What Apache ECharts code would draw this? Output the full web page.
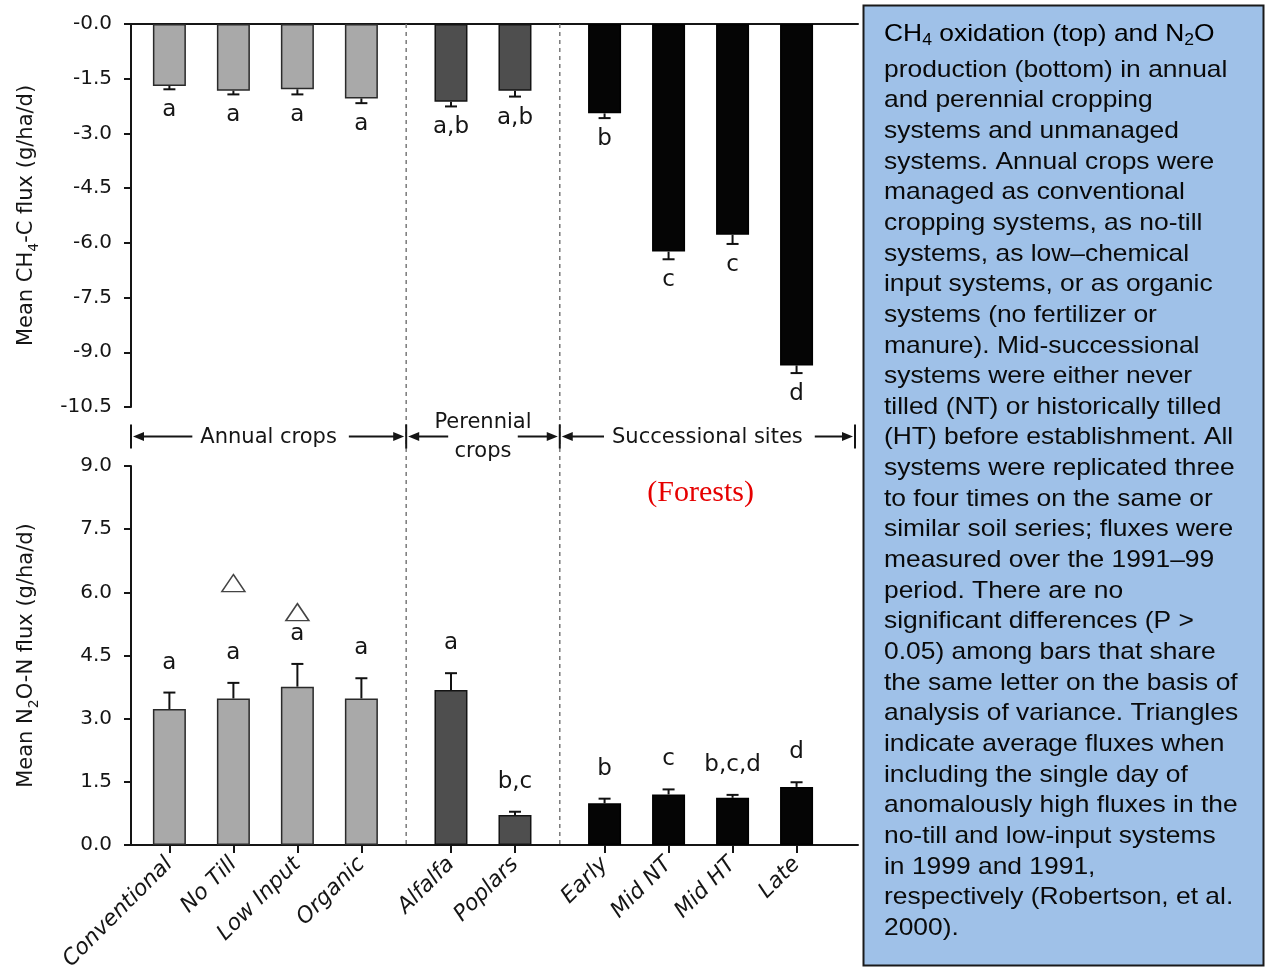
<!DOCTYPE html>
<html><head><meta charset="utf-8">
<script src="https://cdn.jsdelivr.net/npm/echarts@6/dist/echarts.min.js"></script>
<style>html,body{margin:0;padding:0;background:#fff}#c{width:1265px;height:970px}</style>
</head><body><div id="c"></div>
<script>
// ---------- data ----------
const categories = ['Conventional','No Till','Low Input','Organic','Alfalfa','Poplars','Early','Mid NT','Mid HT','Late'];
const groupOf = [0,0,0,0,1,1,2,2,2,2];
const groupNames = ['Annual crops','Perennial\ncrops','Successional sites'];
const ch4Mean = [-1.70,-1.83,-1.79,-2.04,-2.13,-1.83,-2.45,-6.24,-5.78,-9.36];
const ch4Err  = [0.09,0.10,0.14,0.13,0.13,0.16,0.13,0.21,0.25,0.21];
const ch4Letters = ['a','a','a','a','a,b','a,b','b','c','c','d'];
const n2oMean = [3.23,3.48,3.76,3.48,3.68,0.71,0.99,1.20,1.12,1.38];
const n2oErr  = [0.39,0.37,0.54,0.48,0.40,0.08,0.11,0.12,0.07,0.11];
const n2oLetters = ['a','a','a','a','a','b,c','b','c','b,c,d','d'];
const n2oTriangles = [null,6.22,5.53,null,null,null,null,null,null,null];
const ch4TickLabels = ['-0.0','-1.5','-3.0','-4.5','-6.0','-7.5','-9.0','-10.5'];
const n2oTickLabels = ['0.0','1.5','3.0','4.5','6.0','7.5','9.0'];
const forestsNote = '(Forests)';
const captionFirst = '{n|CH}{s|4}{n| oxidation (top) and N}{s|2}{n|O}';
const captionLines = [
 'production (bottom) in annual','and perennial cropping','systems and unmanaged',
 'systems. Annual crops were','managed as conventional','cropping systems, as no-till',
 'systems, as low\u2013chemical','input systems, or as organic','systems (no fertilizer or',
 'manure). Mid-successional','systems were either never','tilled (NT) or historically tilled',
 '(HT) before establishment. All','systems were replicated three','to four times on the same or',
 'similar soil series; fluxes were','measured over the 1991\u201399','period. There are no',
 'significant differences (P >','0.05) among bars that share','the same letter on the basis of',
 'analysis of variance. Triangles','indicate average fluxes when','including the single day of',
 'anomalously high fluxes in the','no-till and low-input systems','in 1999 and 1991,',
 'respectively (Robertson, et al.','2000).'
];

// ---------- layout / style ----------
const GAP = 0.4;
const positions = categories.map((c,i)=> i + groupOf[i]*GAP);
const X_MIN = -0.6, X_MAX = 10.76;
const groupFill = ['#a9a9a9','#4e4e4e','#050505'];
const groupBorder = ['#2a2a2a','#141414','#000000'];
const FONT = 'DejaVu Sans';
const INK = '#151515';

function nameOf(v){ let best=0,bd=1e9; positions.forEach((p,i)=>{const d=Math.abs(p-v); if(d<bd){bd=d;best=i;}}); return categories[best]; }

function errRender(means, errs, letters, offDown, offUp){
  return function(params, api){
    const i = params.dataIndex;
    const x = api.value(0), v = api.value(1), e = api.value(2);
    const sgn = v < 0 ? -1 : 1;
    const p0 = api.coord([x, v]);
    const p1 = api.coord([x, v + sgn*e]);
    const cap = 6;
    const off = sgn < 0 ? offDown : -offUp;
    return {type:'group', children:[
      {type:'line', shape:{x1:p0[0],y1:p0[1],x2:p1[0],y2:p1[1]}, style:{stroke:'#111',lineWidth:2}},
      {type:'line', shape:{x1:p1[0]-cap,y1:p1[1],x2:p1[0]+cap,y2:p1[1]}, style:{stroke:'#111',lineWidth:2}},
      {type:'text', x:p1[0], y:p1[1]+off, style:{text:letters[i], fill:INK, fontFamily:FONT, fontSize:23, align:'center', verticalAlign:'middle'}}
    ]};
  };
}

const barData = means => means.map((v,i)=>({value:[positions[i], v], itemStyle:{color:groupFill[groupOf[i]], borderColor:groupBorder[groupOf[i]], borderWidth:1.5}}));
const axisLineStyle = {color:INK, width:2};
const nameRich = {
  n:{fontFamily:FONT, fontSize:21, color:INK, lineHeight:28},
  s:{fontFamily:FONT, fontSize:14, color:INK, lineHeight:16, verticalAlign:'bottom'}
};

const chart = echarts.init(document.getElementById('c'), null, {renderer:'canvas'});
chart.setOption({
  animation:false,
  backgroundColor:'#ffffff',
  grid:[
    {left:131, top:24, width:727, height:383, containLabel:false, outerBoundsMode:'none'},
    {left:131, top:466, width:727, height:379, containLabel:false, outerBoundsMode:'none'}
  ],
  xAxis:[
    {gridIndex:0, type:'value', min:X_MIN, max:X_MAX, axisLine:{show:true,onZero:true,lineStyle:axisLineStyle}, axisTick:{show:false}, axisLabel:{show:false}, splitLine:{show:false}},
    {gridIndex:1, type:'value', min:X_MIN, max:X_MAX, axisLine:{show:true,onZero:true,lineStyle:axisLineStyle},
     axisTick:{show:true, customValues:positions, length:8, lineStyle:axisLineStyle},
     axisLabel:{show:true, customValues:positions, rotate:45, margin:16, formatter:nameOf, fontFamily:FONT, fontSize:22, fontStyle:'italic', color:INK},
     splitLine:{show:false}}
  ],
  yAxis:[
    {gridIndex:0, type:'value', min:-10.5, max:0, interval:1.5,
     axisLine:{show:true,onZero:false,lineStyle:axisLineStyle}, axisTick:{show:true,length:7,lineStyle:axisLineStyle},
     axisLabel:{formatter:v=>ch4TickLabels[Math.round(-v/1.5)], fontFamily:FONT, fontSize:20, color:INK, margin:19},
     splitLine:{show:false},
     name:'{n|Mean CH}{s|4}{n|-C flux (g/ha/d)}', nameLocation:'middle', nameGap:90, nameRotate:90, nameTextStyle:{rich:nameRich}},
    {gridIndex:1, type:'value', min:0, max:9, interval:1.5,
     axisLine:{show:true,onZero:false,lineStyle:axisLineStyle}, axisTick:{show:true,length:7,lineStyle:axisLineStyle},
     axisLabel:{formatter:v=>n2oTickLabels[Math.round(v/1.5)], fontFamily:FONT, fontSize:20, color:INK, margin:19},
     splitLine:{show:false},
     name:'{n|Mean N}{s|2}{n|O-N flux (g/ha/d)}', nameLocation:'middle', nameGap:90, nameRotate:90, nameTextStyle:{rich:nameRich}}
  ],
  series:[
    {type:'bar', xAxisIndex:0, yAxisIndex:0, barWidth:33, data:barData(ch4Mean), z:3},
    {type:'custom', xAxisIndex:0, yAxisIndex:0, data:positions.map((p,i)=>[p,ch4Mean[i],ch4Err[i]]), renderItem:errRender(ch4Mean,ch4Err,ch4Letters,21,27), z:4},
    {type:'bar', xAxisIndex:1, yAxisIndex:1, barWidth:33, data:barData(n2oMean), z:3},
    {type:'custom', xAxisIndex:1, yAxisIndex:1, data:positions.map((p,i)=>[p,n2oMean[i],n2oErr[i]]), renderItem:errRender(n2oMean,n2oErr,n2oLetters,20,30), z:4},
    {type:'scatter', xAxisIndex:1, yAxisIndex:1, symbol:'triangle', symbolSize:[23,17],
     itemStyle:{color:'#ffffff', borderColor:INK, borderWidth:1.5},
     data:positions.map((p,i)=>[p,n2oTriangles[i]]).filter(d=>d[1]!==null), z:5}
  ]
});

// ---------- annotations placed through axis scales ----------
const mctx = document.createElement('canvas').getContext('2d');
function measure(t, font){ mctx.font = font; return mctx.measureText(t).width; }
const px = v => chart.convertToPixel({xAxisIndex:0}, v);
const yTop = chart.convertToPixel({yAxisIndex:0}, 0);
const yTopEnd = chart.convertToPixel({yAxisIndex:0}, -10.5);
const yBot = chart.convertToPixel({yAxisIndex:1}, 0);
const yBotStart = chart.convertToPixel({yAxisIndex:1}, 9);
const rowY = (yTopEnd + yBotStart)/2;
const xL = px(X_MIN), xR = px(X_MAX) - 3;
const dividers = [];
for (let g=1; g<groupNames.length; g++){
  const last = positions[groupOf.lastIndexOf(g-1)], first = positions[groupOf.indexOf(g)];
  dividers.push(px((last+first)/2));
}
const g = [];
dividers.forEach(d=>g.push({type:'line', z:1, shape:{x1:d,y1:yTop,x2:d,y2:yBot}, style:{stroke:'#7a7a7a', lineWidth:1.5, lineDash:[4,4]}}));
const bounds = [xL, ...dividers, xR];
bounds.forEach(b=>g.push({type:'line', z:2, shape:{x1:b,y1:rowY-12,x2:b,y2:rowY+12}, style:{stroke:INK,lineWidth:2}}));
function arrow(tail, head, y){
  const s = head > tail ? 1 : -1;
  g.push({type:'line', z:2, shape:{x1:tail,y1:y,x2:head-s*4,y2:y}, style:{stroke:INK,lineWidth:2}});
  g.push({type:'polygon', z:2, shape:{points:[[head,y],[head-s*11,y-4.5],[head-s*11,y+4.5]]}, style:{fill:INK}});
}
const rowFont = '21px "DejaVu Sans"';
groupNames.forEach((name,k)=>{
  const a = bounds[k], b = bounds[k+1], mid = (a+b)/2;
  const lines = name.split('\n');
  if (lines.length === 1){
    const w = measure(name, rowFont);
    arrow(mid - w/2 - 8, a + 2, rowY);
    arrow(mid + w/2 + 12, b - 2, rowY);
  } else {
    arrow(a + 42, a + 2, rowY);
    arrow(b - 42, b - 2, rowY);
  }
  g.push({type:'text', z:2, x:mid, y:rowY + 1, style:{text:name, fill:INK, fontFamily:FONT, fontSize:21, lineHeight:29, align:'center', verticalAlign:'middle'}});
});
// (Forests) note above the successional forest sites
const fx = px((positions[7]+positions[8])/2);
const fy = chart.convertToPixel({yAxisIndex:1}, 8.36);
g.push({type:'text', z:5, x:fx, y:fy, style:{text:forestsNote, fill:'#e60000', fontFamily:'Liberation Serif', fontSize:30, align:'center', verticalAlign:'middle'}});
// caption box
g.push({type:'rect', z:6, shape:{x:863.5,y:5.5,width:400,height:960}, style:{fill:'#9fc1e8', stroke:'#1a1a1a', lineWidth:2}});
g.push({type:'text', z:7, x:884, y:34, scaleX:1.1, style:{text:captionFirst, x:0, y:0, align:'left', verticalAlign:'middle',
  rich:{n:{fontFamily:'Liberation Sans', fontSize:24, color:'#0a0a0a', lineHeight:30}, s:{fontFamily:'Liberation Sans', fontSize:16, color:'#0a0a0a', lineHeight:16, verticalAlign:'bottom'}}}});
g.push({type:'text', z:7, x:884, y:54.7, scaleX:1.1, style:{text:captionLines.join('\n'), x:0, y:0, fill:'#0a0a0a', fontFamily:'Liberation Sans', fontSize:24, lineHeight:30.65, align:'left', verticalAlign:'top'}});
chart.setOption({graphic:{elements:g}});
</script></body></html>
